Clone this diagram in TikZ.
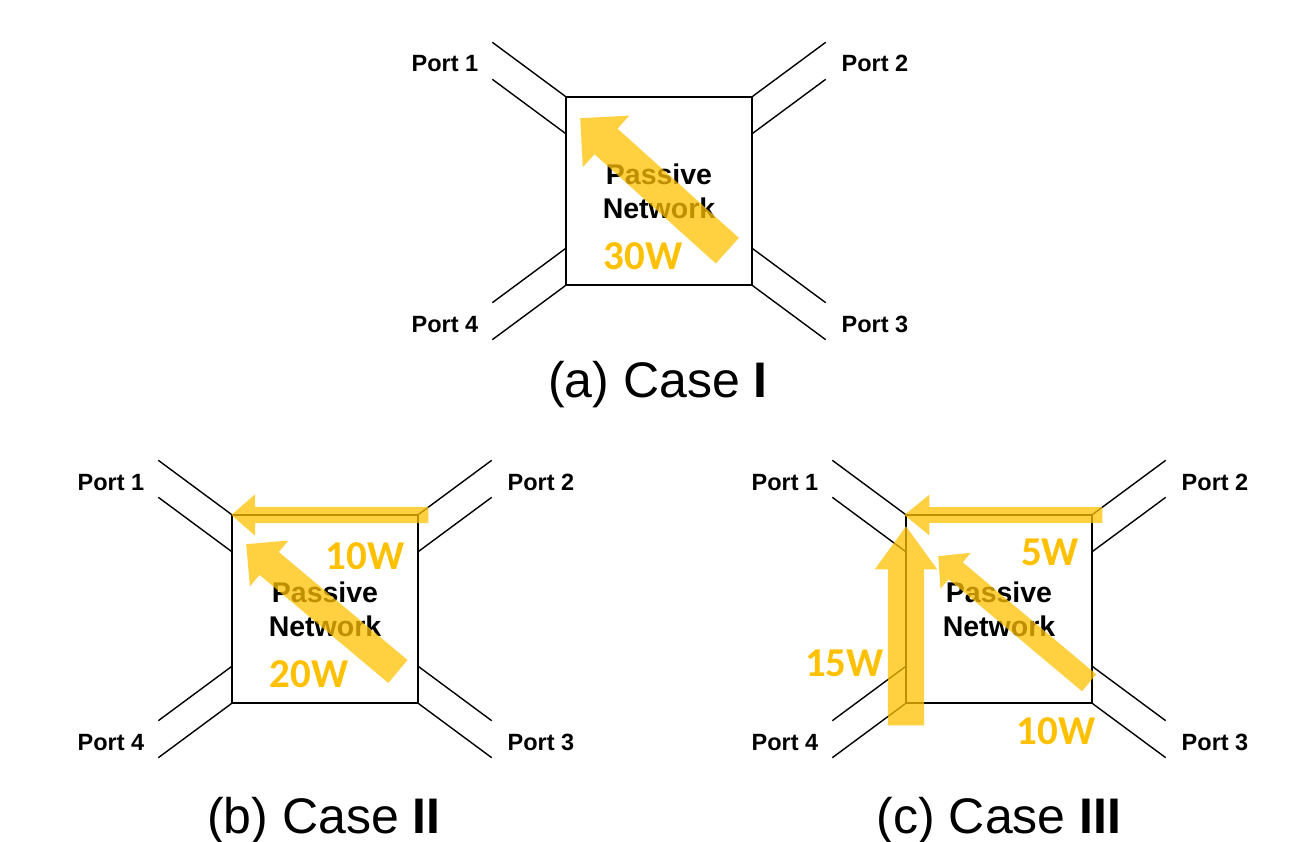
\documentclass[tikz,border=0pt]{standalone}
\usepackage{fontspec}
\setmainfont{Liberation Sans}
\newfontfamily\wattfont{Carlito}
\usetikzlibrary{shapes.arrows}
\definecolor{flowGold}{HTML}{FFC000}

\tikzset{
    netbox/.style={draw, line width=1.4pt, minimum width=186pt, minimum height=188pt,
        inner sep=0pt, align=center, font=\fontsize{28.5}{34}\selectfont\bfseries},
    stub/.style={line width=1.4pt},
    portlabel/.style={anchor=base, font=\fontsize{23.5}{28}\selectfont\bfseries},
    watt/.style={text=flowGold, font=\fontsize{41}{48}\selectfont\wattfont\bfseries},
    caption/.style={anchor=base, font=\fontsize{50}{60}\selectfont},
    % #1 half shaft, #2 head extend, #3 tip angle, #4 length
    flow/.style n args={4}{single arrow, draw=none, fill=flowGold, fill opacity=0.75,
        anchor=tip, inner xsep=0pt, inner ysep=#1, single arrow head extend=#2,
        single arrow tip angle=#3, minimum height=#4},
    pics/netblock/.style={code={
        \node[netbox] (-box) at (0,0) {Passive\\Network};
        % two-wire port stubs
        \draw[stub] (-box.north west) -- ++(-73,-54);
        \draw[stub] ([yshift=-37pt]-box.north west) -- ++(-73,-54);
        \draw[stub] (-box.north east) -- ++(73,-54);
        \draw[stub] ([yshift=-37pt]-box.north east) -- ++(73,-54);
        \draw[stub] (-box.south west) -- ++(-73,54);
        \draw[stub] ([yshift=37pt]-box.south west) -- ++(-73,54);
        \draw[stub] (-box.south east) -- ++(73,54);
        \draw[stub] ([yshift=37pt]-box.south east) -- ++(73,54);
        \node[portlabel] (-p1) at (-214,-119) {Port 1};
        \node[portlabel] (-p2) at (216,-119) {Port 2};
        \node[portlabel] (-p3) at (216,141) {Port 3};
        \node[portlabel] (-p4) at (-214,141) {Port 4};
    }}
}

\begin{document}
\begin{tikzpicture}[x=1pt, y=-1pt]
    \useasboundingbox (0,0) rectangle (1300,842);

    \pic (a) at (659,191) {netblock};
    \pic (b) at (325,609) {netblock};
    \pic (c) at (999,609) {netblock};

    % power flow
    \node[flow={17pt}{17.5pt}{90}{198pt}, rotate=138] (a-flow) at (580,118) {};

    \node[flow={8pt}{12.5pt}{82}{197pt}, rotate=180] (b-top) at (231,515) {};
    \node[flow={14.75pt}{15pt}{90}{198pt}, rotate=140] (b-diag) at (246,544) {};

    \node[flow={7.75pt}{12.25pt}{78}{198pt}, rotate=180] (c-top) at (904,515) {};
    \node[flow={18pt}{13pt}{72}{199pt}, rotate=90] (c-up) at (906,526) {};
    \node[flow={10.85pt}{12.5pt}{92}{197pt}, rotate=140] (c-diag) at (938,556) {};

    \node[watt] (a-w) at (643,256) {30W};
    \node[watt] (b-w1) at (365,556.5) {10W};
    \node[watt] (b-w2) at (309,674) {20W};
    \node[watt] (c-w1) at (1050,552) {5W};
    \node[watt] (c-w2) at (844.5,663) {15W};
    \node[watt] (c-w3) at (1056,731) {10W};

    \node[caption] (a-cap) at (658,397) {(a) Case \textbf{I}};
    \node[caption] (b-cap) at (324,833) {(b) Case \textbf{II}};
    \node[caption] (c-cap) at (999,833) {(c) Case \textbf{III}};
\end{tikzpicture}
\end{document}
